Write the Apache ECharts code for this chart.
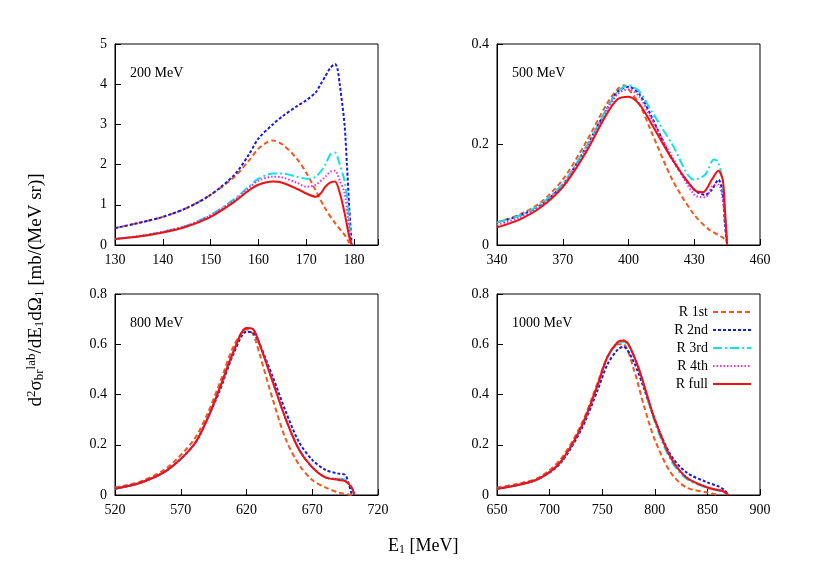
<!DOCTYPE html>
<html><head><meta charset="utf-8">
<script src="https://cdn.jsdelivr.net/npm/echarts@6/dist/echarts.min.js"></script>
<style>html,body{margin:0;background:#fff}#c{width:817px;height:577px}</style>
</head><body><div id="c"></div>
<script>
const seriesNames=['R 1st','R 2nd','R 3rd','R 4th','R full'];
const colors=['#f0581e','#1a1ad8','#10e0e8','#e030e0','#f01010'];
const dashes=[[5,3],[3,2],[9,3,2,3],[1.5,2],'solid'];
const panelLabels=['200 MeV','500 MeV','800 MeV','1000 MeV'];
// panel 1 (200 MeV)
const p1x1=[130,135,140,145,150,155,158,160,162,163,165,168,170,172,174,176,178,179];
const p1y1=[0.42,0.55,0.7,0.92,1.25,1.7,2.1,2.4,2.57,2.6,2.5,2.15,1.8,1.35,0.9,0.55,0.25,0.05];
const p1x2=[130,135,140,145,150,155,158,160,163,165,168,170,172,173,174,175,176,176.5,177,178,178.5,179,179.5];
const p1y2=[0.42,0.55,0.7,0.92,1.25,1.75,2.25,2.65,3.0,3.2,3.45,3.6,3.8,4.0,4.2,4.4,4.5,4.4,4.0,3.0,2.0,0.9,0];
const p1x3=[130,135,140,145,150,155,158,160,163,165,168,170,172,174,175,176,176.5,177,178,178.7,179.3];
const p1y3=[0.15,0.22,0.33,0.48,0.75,1.15,1.45,1.65,1.78,1.78,1.7,1.65,1.7,2.0,2.25,2.3,2.2,2.0,1.6,1.0,0];
const p1x4=[130,135,140,145,150,155,158,160,163,165,168,170,172,174,175,176,177,178,179,179.4];
const p1y4=[0.15,0.22,0.33,0.48,0.74,1.12,1.42,1.6,1.7,1.68,1.55,1.45,1.5,1.7,1.82,1.85,1.6,1.3,0.4,0];
const p1x5=[130,135,140,145,150,155,158,160,163,165,168,170,172,173,174,175,176,177,178,179,179.5];
const p1y5=[0.15,0.21,0.31,0.46,0.7,1.08,1.36,1.5,1.58,1.55,1.4,1.28,1.2,1.28,1.45,1.55,1.58,1.3,0.8,0.2,0];
// panel 2 (500 MeV)
const p2x1=[340,350,360,370,380,390,395,398,400,405,410,420,430,437,443,445];
const p2y1=[0.045,0.06,0.085,0.13,0.2,0.28,0.31,0.318,0.31,0.28,0.23,0.13,0.06,0.03,0.015,0.005];
const p2x2=[340,350,360,370,380,390,395,400,405,410,420,430,435,438,441,443,444,445];
const p2y2=[0.045,0.058,0.08,0.12,0.19,0.27,0.305,0.315,0.3,0.26,0.17,0.11,0.1,0.11,0.13,0.1,0.04,0];
const p2x3=[340,350,360,370,380,390,395,400,405,410,420,430,435,439,441,443,445];
const p2y3=[0.045,0.058,0.082,0.122,0.19,0.27,0.305,0.318,0.305,0.27,0.2,0.13,0.14,0.17,0.165,0.12,0];
const p2x4=[340,350,360,370,380,390,395,400,405,410,420,430,435,439,441,443,445];
const p2y4=[0.04,0.054,0.078,0.118,0.185,0.265,0.3,0.31,0.295,0.255,0.175,0.1,0.095,0.12,0.12,0.09,0];
const p2x5=[340,350,360,370,380,390,395,400,405,410,420,430,434,438,441,443,444,445];
const p2y5=[0.035,0.05,0.075,0.115,0.18,0.26,0.29,0.295,0.28,0.245,0.17,0.11,0.105,0.13,0.148,0.13,0.07,0];
// panel 3 (800 MeV)
const p3x1=[520,540,560,580,590,600,610,620,625,630,640,650,660,670,680,690,700];
const p3y1=[0.03,0.055,0.11,0.22,0.32,0.45,0.59,0.66,0.64,0.56,0.38,0.22,0.12,0.06,0.03,0.01,0];
const p3x2=[520,540,560,580,590,600,610,620,625,630,640,650,660,670,680,690,695,698,700];
const p3y2=[0.025,0.05,0.1,0.2,0.3,0.42,0.56,0.65,0.645,0.6,0.47,0.33,0.21,0.14,0.1,0.085,0.08,0.04,0];
const p3x3=[520,540,560,580,590,600,610,620,625,630,640,650,660,670,680,690,695,700,702];
const p3y3=[0.025,0.05,0.1,0.2,0.3,0.43,0.57,0.665,0.66,0.6,0.45,0.3,0.18,0.11,0.07,0.065,0.06,0.03,0];
const p3x4=[520,540,560,580,590,600,610,620,625,630,640,650,660,670,680,690,695,700,702];
const p3y4=[0.025,0.05,0.1,0.2,0.3,0.43,0.57,0.665,0.66,0.6,0.45,0.3,0.18,0.11,0.07,0.062,0.058,0.03,0];
const p3x5=[520,540,560,580,590,600,610,620,625,630,640,650,660,670,680,690,695,700,702];
const p3y5=[0.025,0.05,0.1,0.2,0.3,0.43,0.57,0.665,0.66,0.6,0.45,0.3,0.18,0.11,0.07,0.06,0.055,0.03,0];
// panel 4 (1000 MeV)
const p4x1=[650,670,690,710,730,745,755,765,770,780,790,800,815,830,850,860];
const p4y1=[0.03,0.045,0.07,0.14,0.28,0.44,0.55,0.6,0.6,0.5,0.35,0.22,0.09,0.03,0.01,0];
const p4x2=[650,670,690,710,730,745,755,765,770,780,790,800,815,830,850,860,866,870];
const p4y2=[0.025,0.04,0.065,0.125,0.26,0.41,0.52,0.58,0.59,0.53,0.42,0.3,0.16,0.09,0.05,0.035,0.02,0];
const p4x3=[650,670,690,710,730,745,755,765,770,775,785,800,815,830,850,860,865,870];
const p4y3=[0.025,0.04,0.065,0.13,0.27,0.43,0.55,0.605,0.61,0.595,0.5,0.29,0.14,0.065,0.028,0.018,0.013,0];
const p4x4=[650,670,690,710,730,745,755,765,770,775,785,800,815,830,850,860,865,870];
const p4y4=[0.025,0.04,0.065,0.13,0.27,0.43,0.55,0.61,0.615,0.6,0.5,0.3,0.15,0.07,0.03,0.02,0.015,0];
const p4x5=[650,670,690,710,730,745,755,765,770,775,785,800,815,830,850,860,865,870];
const p4y5=[0.025,0.04,0.065,0.13,0.27,0.43,0.55,0.61,0.615,0.6,0.5,0.3,0.15,0.07,0.03,0.02,0.015,0];

const xs=[[p1x1,p1x2,p1x3,p1x4,p1x5],[p2x1,p2x2,p2x3,p2x4,p2x5],[p3x1,p3x2,p3x3,p3x4,p3x5],[p4x1,p4x2,p4x3,p4x4,p4x5]];
const ys=[[p1y1,p1y2,p1y3,p1y4,p1y5],[p2y1,p2y2,p2y3,p2y4,p2y5],[p3y1,p3y2,p3y3,p3y4,p3y5],[p4y1,p4y2,p4y3,p4y4,p4y5]];
const xRanges=[[130,185,10],[340,460,30],[520,720,50],[650,900,50]];
const yRanges=[[0,5,1],[0,0.4,0.2],[0,0.8,0.2],[0,0.8,0.2]];
const grids=[{left:115,top:44},{left:497,top:44},{left:115,top:294},{left:497,top:294}];
const font='Liberation Serif';

const chart=echarts.init(document.getElementById('c'));
const yLabelStyle={text:'{n|d}{s|2}{n|σ}{b|br}{s|lab}{n|/dE}{b|1}{n|dΩ}{b|1}{n| [mb/(MeV sr)]}',
  rich:{n:{fontSize:19,fontFamily:font,fill:'#000'},s:{fontSize:13,fontFamily:font,fill:'#000',verticalAlign:'top',padding:[0,0,8,0]},
        b:{fontSize:13,fontFamily:font,fill:'#000',verticalAlign:'bottom',padding:[8,0,0,0]}},
  align:'center',verticalAlign:'middle'};
const option={
  backgroundColor:'#fff',
  textStyle:{fontFamily:font},
  grid:grids.map(g=>({left:g.left,top:g.top,width:263,height:201,show:true,borderColor:'#000',borderWidth:1})),
  xAxis:xRanges.map((r,i)=>({type:'value',gridIndex:i,min:r[0],max:r[1],interval:r[2],
    axisLine:{lineStyle:{color:'#000'}},axisTick:{inside:true,length:6,lineStyle:{color:'#000'}},
    splitLine:{show:false},axisLabel:{color:'#000',fontSize:14,fontFamily:font,margin:8,
      formatter:v=>(i===0&&v===185)?'':String(v)}})),
  yAxis:yRanges.map((r,i)=>({type:'value',gridIndex:i,min:r[0],max:r[1],interval:r[2],
    axisLine:{lineStyle:{color:'#000'}},axisTick:{inside:true,length:6,lineStyle:{color:'#000'}},
    splitLine:{show:false},axisLabel:{color:'#000',fontSize:14,fontFamily:font,margin:8,
      formatter:v=>String(+v.toFixed(1))}})),
  legend:{data:seriesNames,orient:'vertical',right:60,top:300,align:'right',itemWidth:38,itemHeight:10,itemGap:4,
    itemStyle:{opacity:0},
    textStyle:{fontSize:14,fontFamily:font,color:'#000'},backgroundColor:'#fff'},
  series:[],
  graphic:[
    {type:'text',x:36,y:290,rotation:Math.PI/2,style:yLabelStyle},
    {type:'text',left:388,top:537,style:{text:'{n|E}{b|1}{n| [MeV]}',
       rich:{n:{fontSize:18,fontFamily:font,fill:'#000'},b:{fontSize:12,fontFamily:font,fill:'#000',padding:[8,0,0,0]}}}}
  ]
};
panelLabels.forEach((t,i)=>{
  option.graphic.push({type:'text',left:grids[i].left+15,top:grids[i].top+22,style:{text:t,fontSize:14,fontFamily:font,fill:'#000'}});
});
for(let p=0;p<4;p++){
  for(let s=0;s<5;s++){
    option.series.push({type:'line',name:seriesNames[s],xAxisIndex:p,yAxisIndex:p,smooth:0.3,symbol:'none',
      data:xs[p][s].map((x,k)=>[x,ys[p][s][k]]),
      lineStyle:{color:colors[s],width:2,type:dashes[s]},itemStyle:{color:colors[s]},z:s===4?3:2});
  }
}
chart.setOption(option);
</script></body></html>
